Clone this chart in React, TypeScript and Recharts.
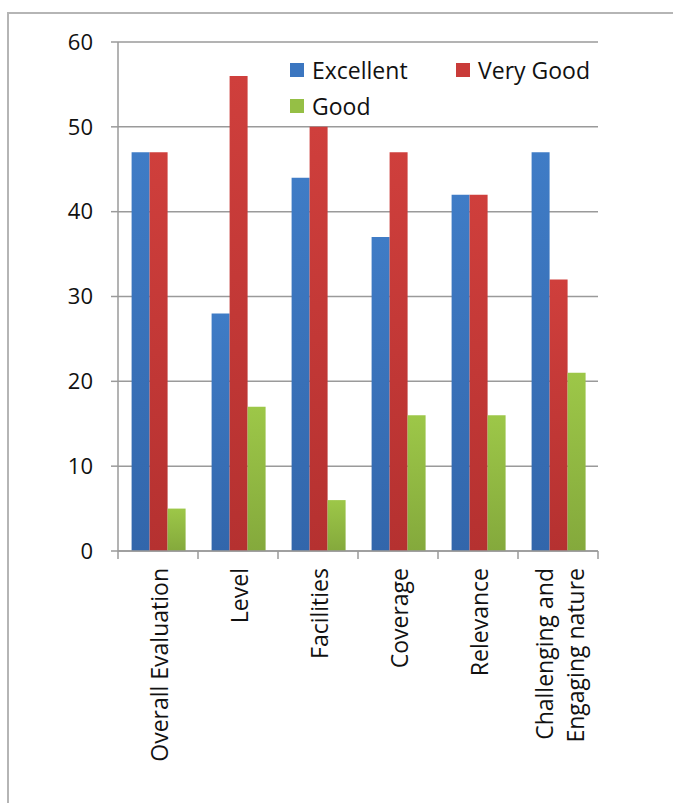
import React from "react";
import { BarChart, Bar, XAxis, YAxis, CartesianGrid } from "recharts";

const categories = [
  "Overall Evaluation",
  "Level",
  "Facilities",
  "Coverage",
  "Relevance",
  "Challenging and\nEngaging nature",
];
const excellent = [47, 28, 44, 37, 42, 47];
const veryGood = [47, 56, 50, 47, 42, 32];
const good = [5, 17, 6, 16, 16, 21];
const yTicks = [0, 10, 20, 30, 40, 50, 60];

const seriesNames = ["Excellent", "Very Good", "Good"];

const data = categories.map((c, i) => ({
  name: c,
  Excellent: excellent[i],
  "Very Good": veryGood[i],
  Good: good[i],
}));

const FONT = "'Open Sans', Lato, sans-serif";
const AXIS = "#9a9a9a";

const XTick = (props: any) => {
  const { x, y, payload, index, visibleTicksCount } = props;
  const half = payload && payload.offset ? payload.offset : 40;
  const lines = String(payload.value).split("\n");
  const lh = 31;
  const ty = y + 17;
  const isLast = index === (visibleTicksCount ?? categories.length) - 1;
  return (
    <g>
      <line x1={x - half} x2={x - half} y1={y} y2={y + 8} stroke={AXIS} strokeWidth={1.5} />
      {isLast && (
        <line x1={x + half} x2={x + half} y1={y} y2={y + 8} stroke={AXIS} strokeWidth={1.5} />
      )}
      <text
        x={x + 2}
        y={ty}
        transform={`rotate(-90, ${x + 2}, ${ty})`}
        textAnchor="end"
        fontSize={23}
        fontFamily={FONT}
        fill="#111"
      >
        {lines.map((l, i) => (
          <tspan
            key={i}
            x={x + 2}
            dy={i === 0 ? -((lines.length - 1) / 2) * lh + 8 : lh}
          >
            {l}
          </tspan>
        ))}
      </text>
    </g>
  );
};

const colorMap: Record<string, string> = {
  Excellent: "url(#gBlue)",
  "Very Good": "url(#gRed)",
  Good: "url(#gGreen)",
};
const swatch: Record<string, string> = {
  Excellent: "#3b76c0",
  "Very Good": "#c93b39",
  Good: "#95bf45",
};

const LegendBox = () => {
  const item = (name: string) => (
    <div style={{ display: "flex", alignItems: "center", height: 36 }}>
      <div style={{ width: 14, height: 14, background: swatch[name], marginRight: 8 }} />
      <span style={{ fontSize: 23, fontFamily: FONT, color: "#111" }}>{name}</span>
    </div>
  );
  return (
    <div style={{ position: "absolute", left: 290, top: 52, display: "flex", flexWrap: "wrap", width: 330 }}>
      <div style={{ width: 166 }}>{item(seriesNames[0])}</div>
      <div>{item(seriesNames[1])}</div>
      <div style={{ width: 166 }}>{item(seriesNames[2])}</div>
    </div>
  );
};

export default function App() {
  return (
    <div style={{ position: "absolute", left: 0, top: 0, width: 673, height: 803, background: "#fff", overflow: "hidden" }}>
      <div
        style={{
          position: "absolute",
          left: 7,
          top: 12,
          width: 680,
          height: 810,
          borderLeft: "2px solid #b5b5b5",
          borderTop: "2px solid #b5b5b5",
        }}
      />
      <div style={{ position: "absolute", left: 0, top: 0 }}>
        <BarChart
          width={673}
          height={803}
          data={data}
          margin={{ top: 42, right: 75, bottom: 0, left: 0 }}
          barCategoryGap="17%"
          barGap={0}
        >
          <defs>
            <linearGradient id="gBlue" x1="0" y1="0" x2="0" y2="1">
              <stop offset="0%" stopColor="#3f7cc6" />
              <stop offset="100%" stopColor="#3266ab" />
            </linearGradient>
            <linearGradient id="gRed" x1="0" y1="0" x2="0" y2="1">
              <stop offset="0%" stopColor="#cf3f3c" />
              <stop offset="100%" stopColor="#b53130" />
            </linearGradient>
            <linearGradient id="gGreen" x1="0" y1="0" x2="0" y2="1">
              <stop offset="0%" stopColor="#9dc748" />
              <stop offset="100%" stopColor="#84a93c" />
            </linearGradient>
          </defs>
          <CartesianGrid vertical={false} stroke={AXIS} strokeWidth={1.5} />
          <XAxis
            dataKey="name"
            interval={0}
            height={252}
            axisLine={{ stroke: AXIS, strokeWidth: 1.5 }}
            tickLine={false}
            tickSize={0}
            tickMargin={0}
            tick={<XTick />}
          />
          <YAxis
            domain={[0, 60]}
            ticks={yTicks}
            width={118}
            axisLine={{ stroke: AXIS, strokeWidth: 1.5 }}
            tickLine={{ stroke: AXIS, strokeWidth: 1.5 }}
            tickSize={7}
            tickMargin={18}
            tick={{ fontSize: 22, fontFamily: FONT, fill: "#111" }}
          />
          {seriesNames.map((s) => (
            <Bar key={s} dataKey={s} fill={colorMap[s]} isAnimationActive={false} />
          ))}
        </BarChart>
      </div>
      <LegendBox />
    </div>
  );
}
